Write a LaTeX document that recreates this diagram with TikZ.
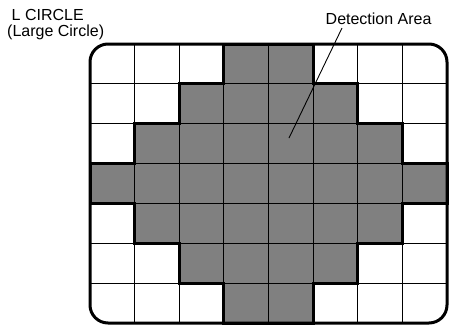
\documentclass[tikz,border=0pt]{standalone}
\usepackage{fontspec}
\setmainfont{Liberation Sans}
\definecolor{areagray}{HTML}{808080}
\begin{document}
\begin{tikzpicture}[x=1pt,y=-1pt,
  gridline/.style={line width=1.1pt},
  arealine/.style={line width=3pt, line join=miter},
  border/.style={line width=3pt, rounded corners=18pt},
  lbl/.style={inner sep=0pt, anchor=base west, font=\fontsize{16}{19}\selectfont},
  leader/.style={line width=0.9pt}]
\useasboundingbox (0,0) rectangle (450,325);
\begin{scope}[shift={(90,44)}, x=44.625pt, y=-39.857pt]
  \def\areapath{(3,0) -- (5,0) -- (5,1) -- (6,1) -- (6,2) -- (7,2) -- (7,3) -- (8,3) -- (8,4) -- (7,4) -- (7,5) -- (6,5) -- (6,6) -- (5,6) -- (5,7) -- (3,7) -- (3,6) -- (2,6) -- (2,5) -- (1,5) -- (1,4) -- (0,4) -- (0,3) -- (1,3) -- (1,2) -- (2,2) -- (2,1) -- (3,1) -- cycle}
  \begin{scope}
    \clip[rounded corners=18pt] (0,0) rectangle (8,7);
    \fill[areagray] \areapath;
    \foreach \i in {1,...,7} \draw[gridline] (\i,0) -- (\i,7);
    \foreach \j in {1,...,6} \draw[gridline] (0,\j) -- (8,\j);
  \end{scope}
  \draw[arealine] \areapath;
  \draw[border] (0,0) rectangle (8,7);
\end{scope}
\node[lbl] (lcircle) at (11.5,20) {L CIRCLE};
\node[lbl] (large) at (7,36.5) {(Large Circle)};
\node[lbl] (det) at (325.5,24) {Detection Area};
\coordinate (dstart) at (342,28);
\coordinate (dtip) at (289,138);
\draw[leader] (dstart) -- (dtip);
\end{tikzpicture}
\end{document}
